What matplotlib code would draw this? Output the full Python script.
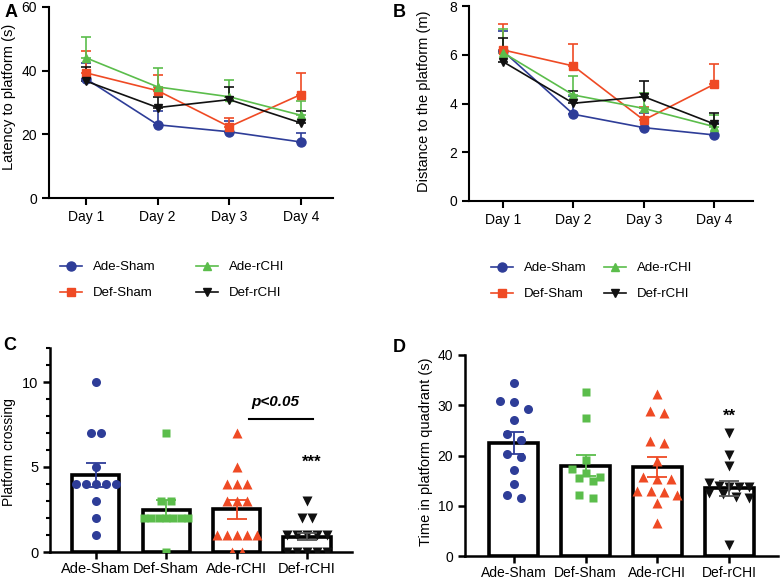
import numpy as np
import matplotlib.pyplot as plt
from matplotlib.ticker import MultipleLocator

plt.rcParams['font.family'] = ['Liberation Sans', 'DejaVu Sans']

# ---- data ----
days = ['Day 1', 'Day 2', 'Day 3', 'Day 4']
line_groups = ['Ade-Sham', 'Def-Sham', 'Ade-rCHI', 'Def-rCHI']

# A: latency to platform (s), mean and upper SEM
latency_mean = {
    'Ade-Sham': [37.4, 23.0, 20.8, 17.6],
    'Def-Sham': [39.3, 33.7, 22.4, 32.5],
    'Ade-rCHI': [44.0, 34.9, 31.8, 26.0],
    'Def-rCHI': [36.7, 28.4, 30.9, 23.6],
}
latency_err = {
    'Ade-Sham': [5.0, 4.3, 3.3, 2.7],
    'Def-Sham': [6.8, 4.9, 2.7, 6.8],
    'Ade-rCHI': [6.5, 6.0, 5.3, 4.6],
    'Def-rCHI': [4.5, 3.2, 4.1, 3.7],
}

# B: distance to the platform (m)
distance_mean = {
    'Ade-Sham': [6.16, 3.56, 3.01, 2.71],
    'Def-Sham': [6.20, 5.54, 3.32, 4.79],
    'Ade-rCHI': [6.09, 4.35, 3.80, 3.05],
    'Def-rCHI': [5.72, 4.01, 4.28, 3.16],
}
distance_err = {
    'Ade-Sham': [0.82, 0.75, 0.60, 0.50],
    'Def-Sham': [1.06, 0.90, 0.52, 0.83],
    'Ade-rCHI': [0.96, 0.79, 0.62, 0.48],
    'Def-rCHI': [0.98, 0.50, 0.66, 0.44],
}

# C / D: bar groups
bar_groups = ['Ade-Sham', 'Def-Sham', 'Ade-rCHI', 'Def-rCHI']

crossing_points = [
    [10, 7, 7, 5, 4, 4, 4, 4, 4, 3, 2, 1],
    [7, 3, 3, 2, 2, 2, 2, 2, 2, 2, 0],
    [7, 5, 4, 4, 4, 3, 3, 3, 1, 1, 1, 1, 1, 0, 0],
    [3, 2, 2, 1, 1, 1, 1, 1, 0, 0, 0, 0, 0],
]
crossing_mean = [4.53, 2.47, 2.51, 0.90]
crossing_sem = [0.72, 0.60, 0.54, 0.20]

quadrant_points = [
    [34.4, 30.9, 30.6, 29.3, 27.1, 24.3, 23.0, 20.2, 19.8, 17.2, 14.3, 12.1, 11.6],
    [32.6, 27.4, 19.1, 17.3, 16.6, 15.7, 15.6, 14.9, 12.1, 11.6],
    [32.3, 28.9, 28.4, 22.8, 22.4, 19.0, 15.8, 15.3, 15.3, 13.0, 13.0, 12.7, 12.1, 10.6, 6.6],
    [24.4, 20.1, 17.9, 14.5, 13.9, 13.8, 13.7, 13.7, 12.5, 12.4, 11.8, 11.6, 2.2],
]
quadrant_mean = [22.5, 18.0, 17.8, 13.5]
quadrant_sem = [2.15, 2.15, 2.0, 1.5]

# ---- styles ----
BLUE = '#2e3d98'
RED = '#ef4a24'
GREEN = '#5bbd4b'
BLACK = '#111111'

line_style = {
    'Ade-Sham': (BLUE, 'o', 6.5),
    'Def-Sham': (RED, 's', 6.0),
    'Ade-rCHI': (GREEN, '^', 6.0),
    'Def-rCHI': (BLACK, 'v', 6.0),
}
bar_style = [(BLUE, 'o', 6.5), (GREEN, 's', 6.0), (RED, '^', 6.5), (BLACK, 'v', 6.5)]

FW, FH = 780, 582
fig = plt.figure(figsize=(FW / 100, FH / 100), dpi=100)


def style_axes(ax, lw=1.5):
    for s in ['top', 'right']:
        ax.spines[s].set_visible(False)
    for s in ['left', 'bottom']:
        ax.spines[s].set_linewidth(lw)
    ax.tick_params(direction='out', length=5, width=lw, colors='black')


def swarm_x(center, values, thresh, step, max_span):
    # rows of near-equal values, spread side by side around the group centre
    values = np.asarray(values, dtype=float)
    order = np.argsort(-values, kind='stable')
    xs = np.zeros(len(values))
    i = 0
    while i < len(order):
        row = [order[i]]
        j = i + 1
        while j < len(order) and values[order[i]] - values[order[j]] <= thresh:
            row.append(order[j])
            j += 1
        n = len(row)
        d = step if n == 1 else min(step, max_span / (n - 1))
        for k, idx in enumerate(row):
            xs[idx] = center + (k - (n - 1) / 2) * d
        i = j
    return xs


def line_panel(rect, means, errs, ylim, yticks, ylabel, xlim, label_xy, legend_xy, colsp):
    ax = fig.add_axes(rect)
    x = np.arange(len(days))
    handles = []
    for g in line_groups:
        c, m, ms = line_style[g]
        ax.errorbar(x, means[g], yerr=[np.zeros(len(days)), errs[g]], fmt='none',
                    ecolor=c, elinewidth=1.2, capsize=3.5, capthick=1.2, zorder=2)
        h, = ax.plot(x, means[g], color=c, lw=1.2, marker=m, ms=ms, label=g, zorder=3)
        handles.append(h)
    ax.set_xlim(*xlim)
    ax.set_ylim(*ylim)
    ax.set_yticks(yticks)
    ax.set_xticks(x)
    ax.set_xticklabels(days, fontsize=10)
    ax.tick_params(axis='y', labelsize=10)
    ax.set_ylabel(ylabel, fontsize=10.5)
    ax.yaxis.set_label_coords(*label_xy)
    style_axes(ax)
    fig.legend(handles=handles, loc='upper left', bbox_to_anchor=legend_xy,
               ncol=2, frameon=False, fontsize=9.5, handlelength=1.7,
               handletextpad=0.8, columnspacing=colsp, labelspacing=1.05,
               borderpad=0, borderaxespad=0)
    return ax


def bar_panel(rect, points, means, sems, ylim, yticks, ylabel, xlim, label_xy,
              bar_w, thresh, step_px, span_px, fs, lab_fs, minor=None):
    ax = fig.add_axes(rect)
    x = np.arange(len(bar_groups))
    ax.set_xlim(*xlim)
    ax.set_ylim(*ylim)
    ppu = rect[2] * FW / (xlim[1] - xlim[0])
    ax.bar(x, means, width=bar_w, color='white', edgecolor='black', linewidth=2.6, zorder=1)
    for i, vals in enumerate(points):
        c, m, ms = bar_style[i]
        xs = swarm_x(x[i], vals, thresh, step_px / ppu, span_px / ppu)
        ax.plot(xs, vals, ls='none', marker=m, ms=ms, color=c, mec='none', zorder=3)
        ecol = '#555555' if c == BLACK else c
        ax.errorbar(x[i], means[i], yerr=sems[i], fmt='none', ecolor=ecol,
                    elinewidth=1.3, capsize=7, capthick=1.3, zorder=4)
    ax.set_yticks(yticks)
    if minor:
        ax.yaxis.set_minor_locator(MultipleLocator(minor))
        ax.tick_params(axis='y', which='minor', length=3, width=1.5)
    ax.set_xticks(x)
    ax.set_xticklabels(bar_groups, fontsize=fs)
    ax.tick_params(axis='y', labelsize=fs)
    ax.set_ylabel(ylabel, fontsize=lab_fs)
    ax.yaxis.set_label_coords(*label_xy)
    style_axes(ax, lw=1.8)
    ax.tick_params(axis='x', pad=2)
    return ax


axA = line_panel([49 / FW, 1 - 198 / FH, 284 / FW, 191 / FH], latency_mean, latency_err,
                 (0, 60), [0, 20, 40, 60], 'Latency to platform (s)', (-0.52, 3.45),
                 (-0.115, 0.53), (60 / FW, 1 - 261 / FH), 3.05)

axB = line_panel([469 / FW, 1 - 201 / FH, 284 / FW, 195 / FH], distance_mean, distance_err,
                 (0, 8), [0, 2, 4, 6, 8], 'Distance to the platform (m)', (-0.48, 3.55),
                 (-0.135, 0.51), (491 / FW, 1 - 262 / FH), 1.3)

axC = bar_panel([50 / FW, 1 - 552 / FH, 302 / FW, 204 / FH], crossing_points, crossing_mean,
                crossing_sem, (0, 12), [0, 5, 10], 'Platform crossing', (-0.65, 3.64),
                (-0.112, 0.49), 0.67, 0.3, 10, 44, 10.5, 10, minor=1)

axD = bar_panel([465 / FW, 1 - 556 / FH, 313 / FW, 201 / FH], quadrant_points, quadrant_mean,
                quadrant_sem, (0, 40), [0, 10, 20, 30, 40], 'Time in platform quadrant (s)',
                (-0.68, 3.68), (-0.102, 0.52), 0.68, 1.7, 14, 40, 10, 10.5)

# significance annotations
axC.plot([2.18, 3.08], [7.8, 7.8], color='black', lw=1.5)
axC.text(2.55, 8.8, 'p<0.05', fontsize=11, fontstyle='italic', fontweight='bold',
         ha='center', va='center')
axC.text(3.07, 5.3, '***', fontsize=12, fontweight='bold', ha='center', va='center')
axD.text(3.0, 27.8, '**', fontsize=12, fontweight='bold', ha='center', va='center')

# panel letters
for lab, xx, yy in [('A', 5, 4), ('B', 393, 4), ('C', 3, 337), ('D', 393, 339)]:
    fig.text(xx / FW, 1 - yy / FH, lab, fontsize=13, fontweight='bold', va='top', ha='left')

fig.savefig('out.png', dpi=100)
